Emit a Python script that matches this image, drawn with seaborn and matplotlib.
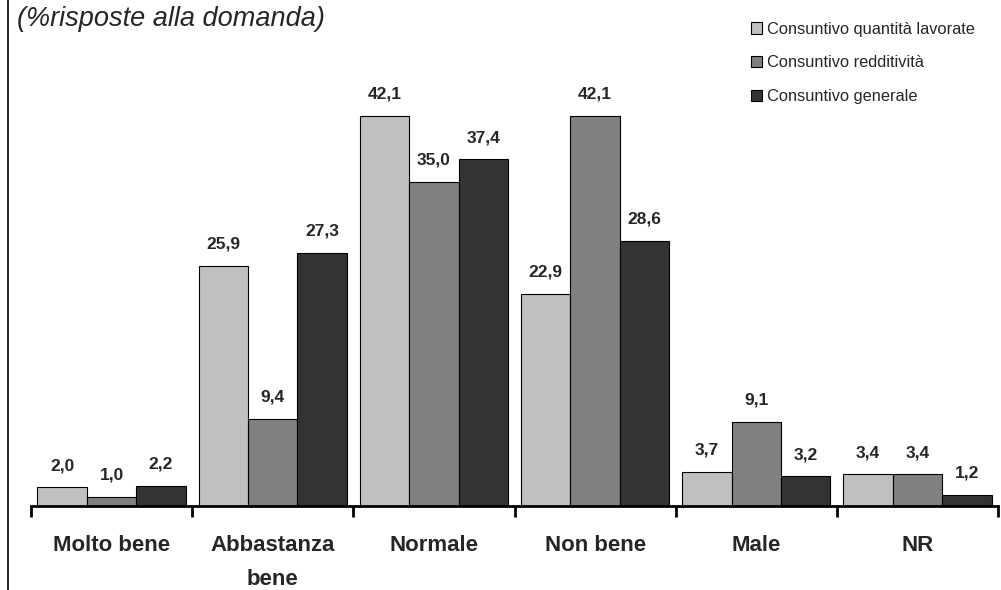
import pandas as pd
import matplotlib
matplotlib.use("Agg")
import matplotlib.pyplot as plt
from matplotlib.lines import Line2D
import seaborn as sns

# Data
categories = ["Molto bene", "Abbastanza\nbene", "Normale", "Non bene", "Male", "NR"]
series_names = ["Consuntivo quantità lavorate", "Consuntivo redditività", "Consuntivo generale"]
quantita = [2.0, 25.9, 42.1, 22.9, 3.7, 3.4]
redditivita = [1.0, 9.4, 35.0, 42.1, 9.1, 3.4]
generale = [2.2, 27.3, 37.4, 28.6, 3.2, 1.2]
colors = ["#c0c0c0", "#808080", "#333333"]

rows = []
for name, vals in zip(series_names, [quantita, redditivita, generale]):
    for cat, v in zip(categories, vals):
        rows.append({"categoria": cat, "serie": name, "valore": v})
df = pd.DataFrame(rows)

sns.set_theme(style="white")
plt.rcParams["font.family"] = ["Liberation Sans", "DejaVu Sans"]

fig = plt.figure(figsize=(10.01, 5.90), dpi=100)
ax = fig.add_axes([31 / 1001, 84 / 590, 967 / 1001, 506 / 590])

sns.barplot(data=df, x="categoria", y="valore", hue="serie", order=categories,
            hue_order=series_names, palette=colors, width=0.92,
            edgecolor="black", linewidth=0.8, saturation=1, ax=ax)

# value labels
for container in ax.containers:
    for bar in container:
        h = bar.get_height()
        ax.annotate(f"{h:.1f}".replace(".", ","),
                    (bar.get_x() + bar.get_width() / 2, h),
                    xytext=(0, 15.5), textcoords="offset points",
                    ha="center", va="center", fontsize=12.5, fontweight="bold")

ax.set_xlim(-0.5, len(categories) - 0.5)
ax.set_ylim(0, 54.6)
ax.set_xlabel("")
ax.set_ylabel("")
ax.set_yticks([])
for s in ["top", "right", "left"]:
    ax.spines[s].set_visible(False)
ax.spines["bottom"].set_linewidth(2)
ax.spines["bottom"].set_color("black")

ax.set_xticks(range(len(categories)))
ax.set_xticklabels(categories, fontsize=16, fontweight="bold", linespacing=1.8, va="top")
ax.tick_params(axis="x", which="major", length=0, pad=21)
ax.set_xticks([i - 0.5 for i in range(len(categories) + 1)], minor=True)
ax.tick_params(axis="x", which="minor", length=8, width=2, color="black", direction="out", bottom=True)

leg = ax.legend(loc="upper left", bbox_to_anchor=(713 / 967, 1.0 - 15 / 506), frameon=False,
                fontsize=11.8, handlelength=0.7, handleheight=0.7, handletextpad=0.3,
                labelspacing=1.15, borderaxespad=0)
for h in leg.legend_handles:
    h.set_edgecolor("black")
    h.set_linewidth(0.8)

fig.text(17 / 1001, 1 - 19 / 590, "(%risposte alla domanda)", fontsize=19.5,
         fontstyle="italic", ha="left", va="center")

# frame line on the left edge
fig.add_artist(Line2D([8 / 1001, 8 / 1001], [0, 1], transform=fig.transFigure,
                      color="black", linewidth=1.2))

fig.savefig("out.png", dpi=100)
